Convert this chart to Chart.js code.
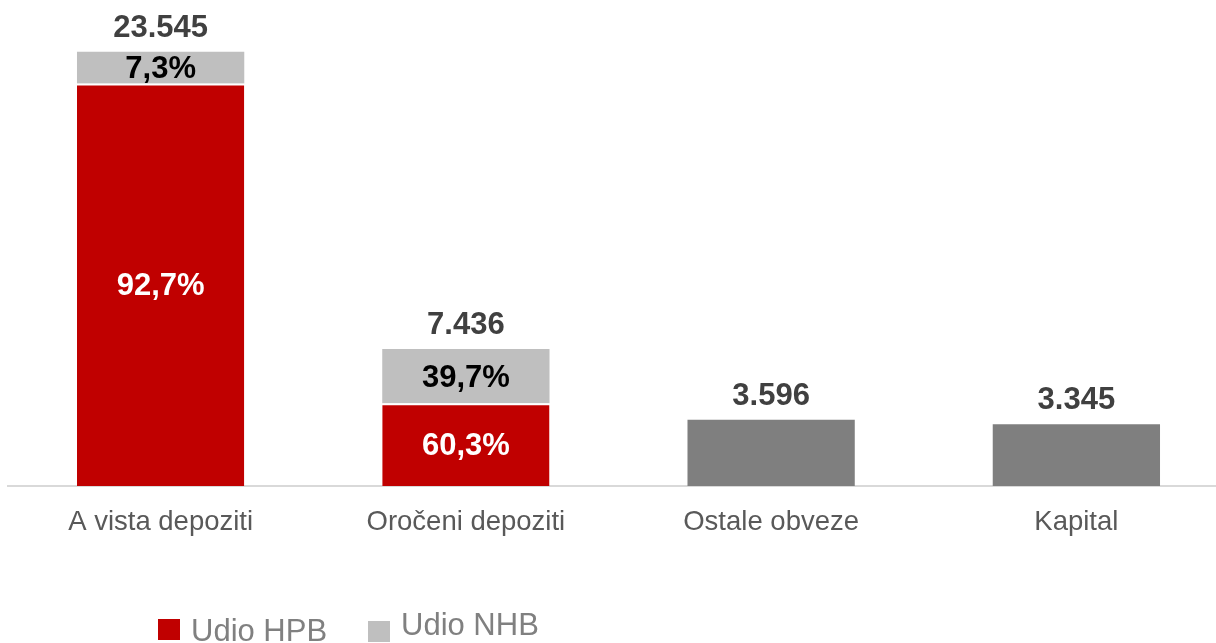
<!doctype html>
<html lang="hr">
<head>
  <meta charset="UTF-8">
  <title>Struktura pasive</title>
  <script src="https://cdn.jsdelivr.net/npm/chart.js"></script>
  <style>
    html, body { margin: 0; padding: 0; overflow: hidden; background: #fff; }
    #wrap { width: 1229px; height: 643px; }
  </style>
</head>
<body>
<div id="wrap"><canvas id="pasiva" width="1229" height="643"></canvas></div>
<script>
  // kategorije i iznosi
  const categories = ['A vista depoziti', 'Oročeni depoziti', 'Ostale obveze', 'Kapital'];
  const totals = [23545, 7436, 3596, 3345];
  // udjeli (%) - samo za depozite
  const hpbShare = [92.7, 60.3, null, null];
  const nhbShare = [7.3, 39.7, null, null];
  const seriesNames = ['Udio HPB', 'Udio NHB'];

  const hpbValues = totals.map((t, i) => hpbShare[i] == null ? null : t * hpbShare[i] / 100);
  const nhbValues = totals.map((t, i) => nhbShare[i] == null ? null : t * nhbShare[i] / 100);
  const otherValues = totals.map((t, i) => hpbShare[i] == null ? t : null);

  const fmtTotal = v => v.toLocaleString('de-DE');
  const fmtPct = v => v.toFixed(1).replace('.', ',') + '%';

  // natpisi na stupcima
  const labelsPlugin = {
    id: 'barLabels',
    afterDatasetsDraw(chart) {
      const ctx = chart.ctx;
      ctx.save();
      ctx.textAlign = 'center';
      ctx.font = 'bold 31px "Liberation Sans", Arial, sans-serif';
      const shares = [hpbShare, nhbShare];
      const textColors = ['#ffffff', '#000000'];
      [0, 1].forEach(d => {
        chart.getDatasetMeta(d).data.forEach((bar, i) => {
          if (shares[d][i] == null) return;
          ctx.fillStyle = textColors[d];
          ctx.textBaseline = 'middle';
          ctx.fillText(fmtPct(shares[d][i]), bar.x, (bar.y + bar.base) / 2 + 2);
        });
      });
      // ukupni iznosi
      ctx.fillStyle = '#404040';
      ctx.textBaseline = 'alphabetic';
      const y = chart.scales.y;
      const x = chart.scales.x;
      totals.forEach((t, i) => {
        ctx.fillText(fmtTotal(t), x.getPixelForValue(i), y.getPixelForValue(t) - 15);
      });
      ctx.restore();
    }
  };

  // legenda (ručno crtana, lijevo dolje)
  const legendPlugin = {
    id: 'customLegend',
    afterDraw(chart) {
      const ctx = chart.ctx;
      ctx.save();
      ctx.font = '31px "Liberation Sans", Arial, sans-serif';
      ctx.textBaseline = 'alphabetic';
      const items = [
        { x: 158, y: 641, box: 640, color: '#C00000' },
        { x: 368, y: 635, box: 642, color: '#BFBFBF' }
      ];
      items.forEach((it, k) => {
        ctx.fillStyle = it.color;
        ctx.fillRect(it.x, it.box - 21, 22, 21);
        ctx.fillStyle = '#808080';
        ctx.fillText(seriesNames[k], it.x + 33, it.y);
      });
      ctx.restore();
    }
  };

  new Chart(document.getElementById('pasiva'), {
    type: 'bar',
    data: {
      labels: categories,
      datasets: [
        { label: seriesNames[0], data: hpbValues, backgroundColor: '#C00000', borderColor: '#ffffff', borderWidth: { top: 2 }, borderSkipped: 'bottom' },
        { label: seriesNames[1], data: nhbValues, backgroundColor: '#BFBFBF', borderColor: '#ffffff', borderWidth: 0 },
        { label: 'Ostalo', data: otherValues, backgroundColor: '#7F7F7F', borderWidth: 0 }
      ]
    },
    options: {
      responsive: false,
      animation: false,
      layout: { padding: { top: 25, bottom: 84, left: 8, right: 0 } },
      datasets: { bar: { barPercentage: 0.548, categoryPercentage: 1 } },
      plugins: { legend: { display: false }, tooltip: { enabled: false } },
      scales: {
        x: {
          stacked: true,
          grid: { display: false, drawTicks: false },
          border: { color: '#D9D9D9', width: 2 },
          ticks: {
            padding: 20,
            color: '#595959',
            font: { family: '"Liberation Sans", Arial, sans-serif', size: 27.5 }
          }
        },
        y: {
          stacked: true,
          display: false,
          min: 0,
          max: 25000
        }
      }
    },
    plugins: [labelsPlugin, legendPlugin]
  });
</script>
</body>
</html>
